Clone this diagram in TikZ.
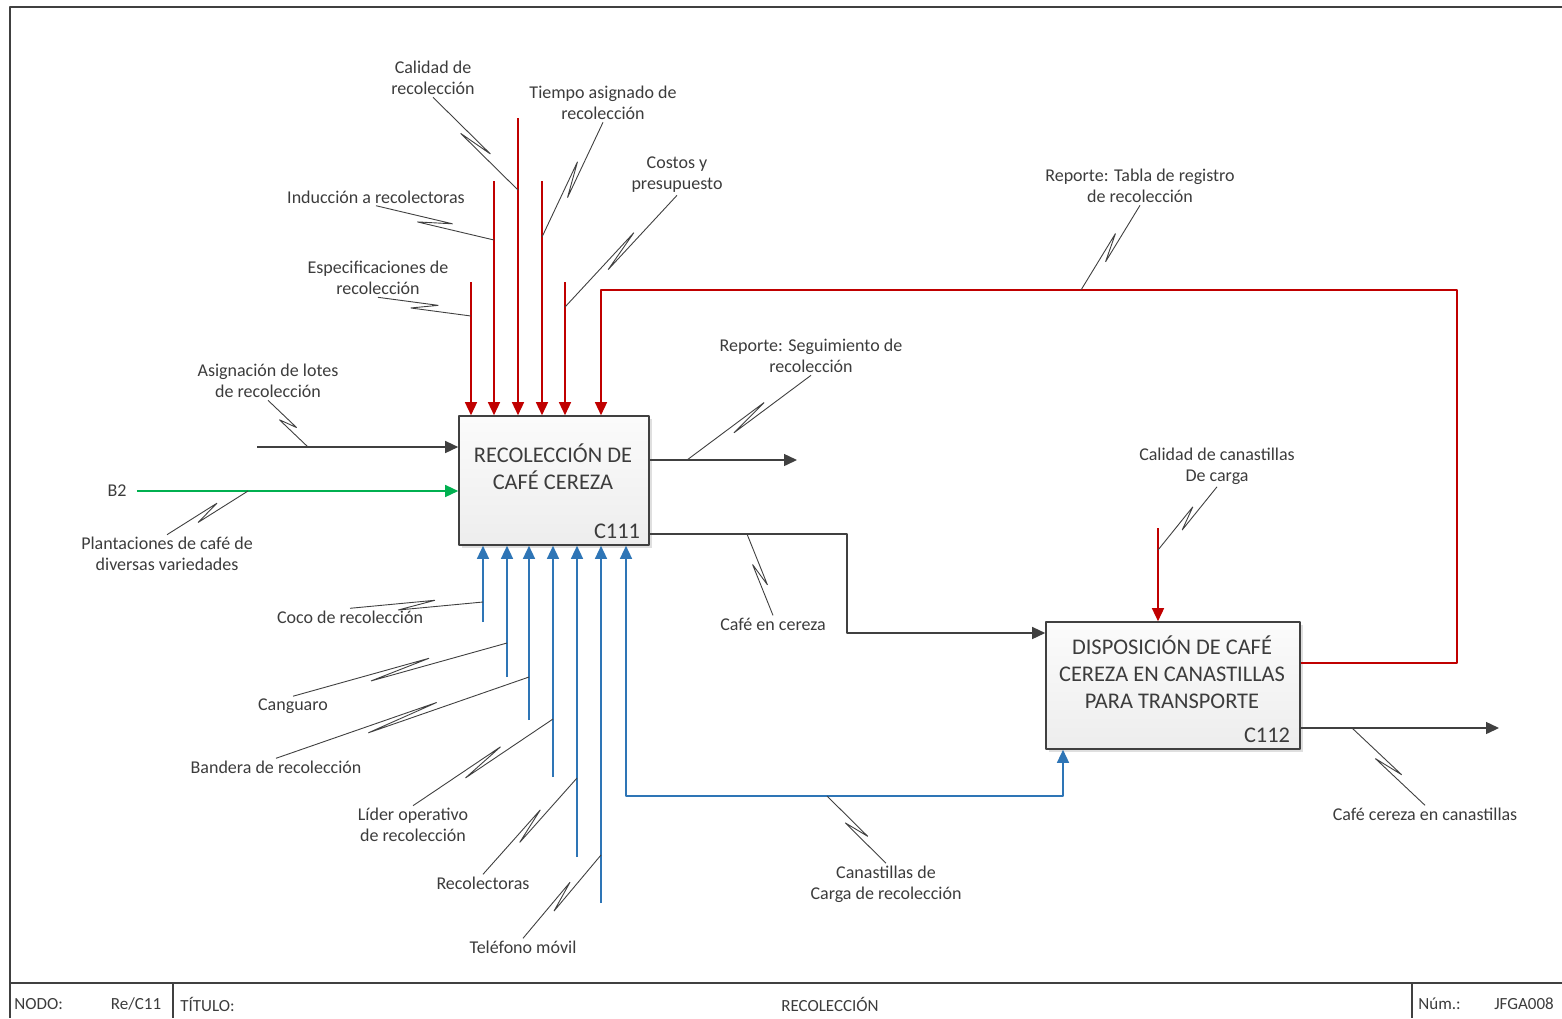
\documentclass[tikz,border=0pt]{standalone}
\usepackage{fontspec}
\setmainfont{Carlito}
\usetikzlibrary{calc,arrows.meta,shadows}
\definecolor{ctlred}{RGB}{192,0,0}
\definecolor{mechblue}{RGB}{46,117,182}
\definecolor{ingreen}{RGB}{0,176,80}
\definecolor{flowgray}{RGB}{64,64,64}
\definecolor{txtgray}{RGB}{60,60,60}
\begin{document}
\begin{tikzpicture}[x=0.5pt,y=-0.5pt,>={Triangle[length=6.5pt,width=6pt]},line join=bevel,
  actbox/.style={draw=flowgray,line width=0.8pt,top color=gray!3,bottom color=gray!14,
    drop shadow={opacity=0.25,shadow xshift=1.5pt,shadow yshift=-1.5pt}},
  acttext/.style={text=txtgray,font=\fontsize{11.2}{13.5}\selectfont,align=center,inner sep=0pt},
  lbl/.style={text=txtgray,font=\fontsize{9}{10.6}\selectfont,align=center,inner sep=1pt},
  foot/.style={text=txtgray,font=\fontsize{8.5}{10}\selectfont,inner sep=1pt},
  flow/.style={draw=flowgray,line width=0.7pt},
  ctl/.style={draw=ctlred,line width=0.7pt},
  mech/.style={draw=mechblue,line width=0.7pt},
  inp/.style={draw=ingreen,line width=0.7pt},
  squig/.style={draw=flowgray,line width=0.45pt,
    to path={-- ($(\tikztostart)!0.64!(\tikztotarget)!2pt!90:(\tikztotarget)$)
      -- ($(\tikztostart)!0.36!(\tikztotarget)!2pt!-90:(\tikztotarget)$) -- (\tikztotarget)}},
]
\useasboundingbox (0,0) rectangle (1562,1018);
%%
  % Frame
  \draw[flowgray,line width=1pt] (1562,7) -- (10,7) -- (10,1018);
  \draw[flowgray,line width=0.9pt] (10,983) -- (1562,983);
  \draw[flowgray,line width=0.6pt] (173,983) -- (173,1018);
  \draw[flowgray,line width=0.6pt] (1412,983) -- (1412,1018);
  % Node: c111
  \node[actbox,minimum width=95pt,minimum height=64.5pt] (c111) at (554,480.5) {};
  \node[acttext] (t111) at (553,466.5) {RECOLECCIÓN DE\\CAFÉ CEREZA};
  \node[acttext] (n111) at (617,531) {C111};
  % Node: c112
  \node[actbox,minimum width=127pt,minimum height=63.5pt] (c112) at (1173,685.5) {};
  \node[acttext] (t112) at (1172,672) {DISPOSICIÓN DE CAFÉ\\CEREZA EN CANASTILLAS\\PARA TRANSPORTE};
  \node[acttext] (n112) at (1267,735) {C112};
%
  % Free ends
  \coordinate (ctl1) at (471,282);
  \coordinate (ctl2) at (494,181);
  \coordinate (ctl3) at (518,118);
  \coordinate (ctl4) at (542,181);
  \coordinate (ctl5) at (565,282);
  \coordinate (ctlb) at (1158,528);
  \coordinate (fbkr) at (1457,663);
  \coordinate (fbkt) at (1457,290);
  \coordinate (fbkl) at (601,290);
  \coordinate (asistart) at (257,447);
  \coordinate (segend) at (797,460);
  \coordinate (cafa) at (847,534);
  \coordinate (cafb) at (847,633);
  \coordinate (cneend) at (1499,728);
  \coordinate (mec1) at (483,622);
  \coordinate (mec2) at (507,677);
  \coordinate (mec3) at (529,720);
  \coordinate (mec4) at (553,777);
  \coordinate (mec5) at (577,857);
  \coordinate (mec6) at (601,903);
  \coordinate (cana) at (626,796);
  \coordinate (canb) at (1063,796);
%
  % Edge: controls -> c111
  \draw[ctl,->] (ctl1) -- (ctl1 |- c111.north);
  \draw[ctl,->] (ctl2) -- (ctl2 |- c111.north);
  \draw[ctl,->] (ctl3) -- (ctl3 |- c111.north);
  \draw[ctl,->] (ctl4) -- (ctl4 |- c111.north);
  \draw[ctl,->] (ctl5) -- (ctl5 |- c111.north);
  % Edge: c112 -> c111 (feedback)
  \draw[ctl,->] (fbkr -| c112.east) -- (fbkr) -- (fbkt) -- (fbkl) -- (fbkl |- c111.north);
  % Edge: control -> c112
  \draw[ctl,->] (ctlb) -- (ctlb |- c112.north);
  % Edge: inputs -> c111
  \draw[flow,->] (asistart) -- (asistart -| c111.west);
  \node[lbl] (lb2) at (117,491) {B2};
  \draw[inp,->] ([xshift=4pt]lb2.east) -- (lb2.east -| c111.west);
  % Edge: c111 -> output
  \draw[flow,->] (segend -| c111.east) -- (segend);
  % Edge: c111 -> c112
  \draw[flow,->] (cafa -| c111.east) -- (cafa) -- (cafb) -- (cafb -| c112.west);
  % Edge: c112 -> output
  \draw[flow,->] (cneend -| c112.east) -- (cneend);
  % Edge: mechanisms -> c111
  \draw[mech,->] (mec1) -- (mec1 |- c111.south);
  \draw[mech,->] (mec2) -- (mec2 |- c111.south);
  \draw[mech,->] (mec3) -- (mec3 |- c111.south);
  \draw[mech,->] (mec4) -- (mec4 |- c111.south);
  \draw[mech,->] (mec5) -- (mec5 |- c111.south);
  \draw[mech,->] (mec6) -- (mec6 |- c111.south);
  % Edge: mechanism -> c111, c112
  \draw[mech,<->] (cana |- c111.south) -- (cana) -- (canb) -- (canb |- c112.south);
%
  % Node: labels
  \node[lbl] (lcal) at (433,78) {Calidad de\\recolección};
  \node[lbl] (ltie) at (603,103) {Tiempo asignado de\\recolección};
  \node[lbl] (lind) at (376,197) {Inducción a recolectoras};
  \node[lbl] (lcos) at (677,175) {Costos y\\presupuesto};
  \node[lbl] (lesp) at (378,278) {Especificaciones de\\recolección};
  \node[lbl] (lasi) at (268,381) {Asignación de lotes\\de recolección};
  \node[lbl] (lpla) at (167,554) {Plantaciones de café de\\diversas variedades};
  \node[lbl] (lcoc) at (350,617) {Coco de recolección};
  \node[lbl] (lcan) at (293,706) {Canguaro};
  \node[lbl] (lban) at (276,767) {Bandera de recolección};
  \node[lbl] (llid) at (413,825) {Líder operativo\\de recolección};
  \node[lbl] (lrec) at (483,883) {Recolectoras};
  \node[lbl] (ltel) at (523,947) {Teléfono móvil};
  \node[lbl] (lseg) at (811,356) {Reporte: Seguimiento de\\recolección};
  \node[lbl] (lcaf) at (773,624) {Café en cereza};
  \node[lbl] (lcdc) at (1217,466) {Calidad de canastillas\\De carga};
  \node[lbl] (ltab) at (1140,186) {Reporte: Tabla de registro\\de recolección};
  \node[lbl] (lcne) at (1425,814) {Café cereza en canastillas};
  \node[lbl] (lcdl) at (886,884) {Canastillas de\\Carga de recolección};
%
  % Squiggle ends
  \coordinate (sqcal) at (518,190);
  \coordinate (sqtie) at (542,237);
  \coordinate (sqind) at (494,240);
  \coordinate (sqcos) at (565,307);
  \coordinate (sqesp) at (471,316);
  \coordinate (sqasi) at (308,447);
  \coordinate (sqpla) at (248,491);
  \coordinate (sqcoc) at (483,602);
  \coordinate (sqcan) at (507,643);
  \coordinate (sqban) at (529,677);
  \coordinate (sqlid) at (553,719);
  \coordinate (sqrec) at (577,778);
  \coordinate (sqtel) at (601,855);
  \coordinate (sqseg) at (687,460);
  \coordinate (sqcaf) at (747,534);
  \coordinate (sqcdc) at (1158,550);
  \coordinate (sqtab) at (1081,290);
  \coordinate (sqcne) at (1352,728);
  \coordinate (sqcdl) at (827,796);
  % Edge: labels -> arrows
  \draw[squig] (lcal.south) to (sqcal);
  \draw[squig] (ltie.south) to (sqtie);
  \draw[squig] (lind.south) to (sqind);
  \draw[squig] (lcos.south) to (sqcos);
  \draw[squig] (lesp.south) to (sqesp);
  \draw[squig] (lasi.south) to (sqasi);
  \draw[squig] (lpla.north) to (sqpla);
  \draw[squig] (lcoc.north) to (sqcoc);
  \draw[squig] (lcan.north) to (sqcan);
  \draw[squig] (lban.north) to (sqban);
  \draw[squig] (llid.north) to (sqlid);
  \draw[squig] (lrec.north) to (sqrec);
  \draw[squig] (ltel.north) to (sqtel);
  \draw[squig] (lseg.south) to (sqseg);
  \draw[squig] (lcaf.north) to (sqcaf);
  \draw[squig] (lcdc.south) to (sqcdc);
  \draw[squig] (ltab.south) to (sqtab);
  \draw[squig] (lcne.north) to (sqcne);
  \draw[squig] (lcdl.north) to (sqcdl);
%
  % Node: footer
  \node[foot,anchor=west] (fnodo) at (12,1004) {NODO:};
  \node[foot] (fnum) at (136,1004) {Re/C11};
  \node[foot,anchor=west] (ftit) at (178,1004) {TÍTULO:};
  \node[foot] (fname) at (830,1004) {RECOLECCIÓN};
  \node[foot,anchor=west] (fnumlbl) at (1416,1004) {Núm.:};
  \node[foot] (fcode) at (1524,1004) {JFGA008};
%
\end{tikzpicture}
\end{document}
